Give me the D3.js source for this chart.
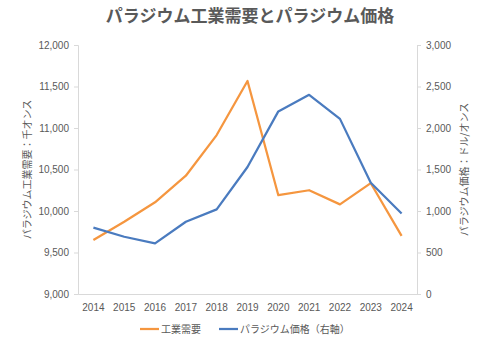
<!DOCTYPE html>
<html>
<head>
<meta charset="utf-8">
<script src="https://cdn.jsdelivr.net/npm/d3@7"></script>
<style>
  body { margin: 0; background: #fff; }
  text { font-family: "Noto Sans CJK JP", "Liberation Sans", sans-serif; }
</style>
</head>
<body>
<div id="chart"></div>
<script>
// data
const years = ["2014", "2015", "2016", "2017", "2018", "2019", "2020", "2021", "2022", "2023", "2024"];
const demand = [9650, 9870, 10105, 10425, 10915, 11566, 10190, 10250, 10080, 10335, 9700];
const price = [800, 690, 610, 870, 1020, 1530, 2200, 2400, 2110, 1340, 970];
const leftTicks = [9000, 9500, 10000, 10500, 11000, 11500, 12000];
const rightTicks = [0, 500, 1000, 1500, 2000, 2500, 3000];

const width = 500,
  height = 353;
const margin = { top: 45, right: 83, bottom: 59, left: 78 };
const innerW = width - margin.left - margin.right,
  innerH = height - margin.top - margin.bottom;

const orange = "#F5963F",
  blue = "#4A7BBF",
  grey = "#595959",
  axisGrey = "#D9D9D9";

const svg = d3
  .select("#chart")
  .append("svg")
  .attr("width", width)
  .attr("height", height);

// title
svg
  .append("text")
  .attr("x", width / 2)
  .attr("y", 22)
  .attr("text-anchor", "middle")
  .style("font-size", "17px")
  .style("font-weight", "bold")
  .style("fill", grey)
  .text("パラジウム工業需要とパラジウム価格");

const g = svg
  .append("g")
  .attr("transform", `translate(${margin.left},${margin.top})`);

// scales
const x = d3.scaleBand().domain(years).range([0, innerW]);
const yL = d3.scaleLinear().domain([9000, 12000]).range([innerH, 0]);
const yR = d3.scaleLinear().domain([0, 3000]).range([innerH, 0]);
const fmt = d3.format(",");

// left axis
const left = g
  .append("g")
  .call(d3.axisLeft(yL).tickValues(leftTicks).tickFormat(fmt).tickSize(4).tickPadding(5));
// right axis
const right = g
  .append("g")
  .attr("transform", `translate(${innerW},0)`)
  .call(d3.axisRight(yR).tickValues(rightTicks).tickFormat(fmt).tickSize(4).tickPadding(5));
// bottom axis
const bottom = g
  .append("g")
  .attr("transform", `translate(0,${innerH})`)
  .call(d3.axisBottom(x).tickSize(0).tickPadding(10));

[left, right, bottom].forEach((a) => {
  a.select(".domain").attr("stroke", axisGrey);
  a.selectAll(".tick line").attr("stroke", axisGrey);
  a.selectAll("text")
    .style("font-family", "'Liberation Sans', sans-serif")
    .style("font-size", "10px")
    .style("fill", grey);
});

// axis titles
svg
  .append("text")
  .attr("transform", `translate(31,${margin.top + innerH / 2}) rotate(-90)`)
  .attr("text-anchor", "middle")
  .style("font-size", "10px")
  .style("fill", grey)
  .text("パラジウム工業需要：千オンス");

svg
  .append("text")
  .attr("transform", `translate(468,${margin.top + innerH / 2}) rotate(-90)`)
  .attr("text-anchor", "middle")
  .style("font-size", "10px")
  .style("fill", grey)
  .text("パラジウム価格：ドル/オンス");

// lines
const cx = (i) => x(years[i]) + x.bandwidth() / 2;

const lineL = d3
  .line()
  .x((d, i) => cx(i))
  .y((d) => yL(d));
const lineR = d3
  .line()
  .x((d, i) => cx(i))
  .y((d) => yR(d));

g.append("path")
  .datum(demand)
  .attr("d", lineL)
  .attr("fill", "none")
  .attr("stroke", orange)
  .attr("stroke-width", 2.25)
  .attr("stroke-linejoin", "round");

g.append("path")
  .datum(price)
  .attr("d", lineR)
  .attr("fill", "none")
  .attr("stroke", blue)
  .attr("stroke-width", 2.25)
  .attr("stroke-linejoin", "round");

// legend
const legendItems = [
  { label: "工業需要", color: orange, x: 140 },
  { label: "パラジウム価格（右軸）", color: blue, x: 219 },
];
const legend = svg.append("g").attr("transform", "translate(0,329)");
legendItems.forEach((d) => {
  legend
    .append("line")
    .attr("x1", d.x)
    .attr("x2", d.x + 19)
    .attr("y1", 0)
    .attr("y2", 0)
    .attr("stroke", d.color)
    .attr("stroke-width", 2.25);
  legend
    .append("text")
    .attr("x", d.x + 21)
    .attr("y", 0)
    .attr("dy", "0.35em")
    .style("font-size", "10px")
    .style("fill", grey)
    .text(d.label);
});
</script>
</body>
</html>
